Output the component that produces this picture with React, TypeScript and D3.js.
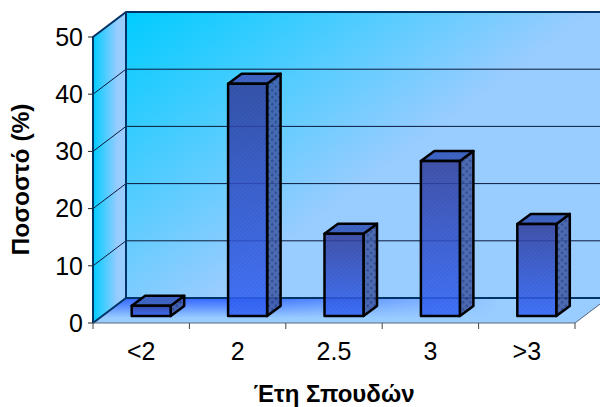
import React from "react";
import * as d3 from "d3";

const categories = ["<2", "2", "2.5", "3", ">3"];
const values = [1.8, 40.6, 14.4, 27.1, 16.1];
const yTicks = [0, 10, 20, 30, 40, 50];
const yTitle = "Ποσοστό (%)";
const xTitle = "Έτη Σπουδών";

const W = 600, H = 407;
const x = d3.scaleBand<string>().domain(categories).range([93, 575]);
const y = d3.scaleLinear().domain([0, 50]).range([323, 37]);
const DX = 33, DY = -25;
const pts = (p: number[][]) => p.map((q) => q.join(",")).join(" ");
const FONT = "'Liberation Sans', Arial, sans-serif";

export default function App() {
  const x0 = x.range()[0], x1 = x.range()[1];
  const y0 = y(0), yTop = y(50);
  const barW = 39, bdx = 13.5, bdy = -10, shiftX = 10, shiftY = -7;
  const floorPts = pts([[x0, y0], [x0 + DX, y0 + DY], [x1 + DX, y0 + DY], [x1, y0]]);
  return (
    <svg width={W} height={H} style={{ position: "absolute", left: 0, top: 0, background: "#fff" }}>
      <defs>
        <linearGradient id="back" gradientUnits="userSpaceOnUse" x1="126" y1="12" x2="294" y2="236">
          <stop offset="0" stopColor="#00ccff" />
          <stop offset="1" stopColor="#99ccff" />
        </linearGradient>
        <linearGradient id="left" x1="0" y1="0" x2="1" y2="0">
          <stop offset="0" stopColor="#00ccff" />
          <stop offset="0.75" stopColor="#99ccff" />
          <stop offset="1" stopColor="#99ccff" />
        </linearGradient>
        <linearGradient id="floor" x1="0" y1="0" x2="0" y2="1">
          <stop offset="0" stopColor="#3366ff" />
          <stop offset="0.8" stopColor="#99ccff" />
          <stop offset="1" stopColor="#99ccff" />
        </linearGradient>
        <linearGradient id="floorFade" gradientUnits="userSpaceOnUse" x1="240" y1="0" x2="500" y2="0">
          <stop offset="0" stopColor="#99ccff" stopOpacity="0" />
          <stop offset="1" stopColor="#99ccff" stopOpacity="1" />
        </linearGradient>
        <linearGradient id="barFront" x1="0" y1="0" x2="0" y2="1">
          <stop offset="0" stopColor="#33409f" />
          <stop offset="1" stopColor="#3366ff" />
        </linearGradient>
        <pattern id="hatch" width="3" height="3" patternUnits="userSpaceOnUse" patternTransform="rotate(45)">
          <rect width="1.5" height="3" fill="#000" fillOpacity="0.07" />
        </pattern>
        <pattern id="dots" width="5" height="5" patternUnits="userSpaceOnUse" patternTransform="rotate(45)">
          <rect width="5" height="5" fill="#3f5aa6" />
          <rect width="2.5" height="2.5" fill="#25397f" />
        </pattern>
      </defs>

      <polygon points={pts([[x0 + DX, yTop + DY], [x1 + DX, yTop + DY], [x1 + DX, y0 + DY], [x0 + DX, y0 + DY]])} fill="url(#back)" />
      <polygon points={pts([[x0, yTop], [x0 + DX, yTop + DY], [x0 + DX, y0 + DY], [x0, y0]])} fill="url(#left)" />
      <polygon points={floorPts} fill="url(#floor)" />
      <polygon points={floorPts} fill="url(#floorFade)" />

      {yTicks.slice(1, -1).map((t) => (
        <polyline key={t} points={pts([[x0, y(t)], [x0 + DX, y(t) + DY], [x1 + DX, y(t) + DY]])} fill="none" stroke="#0a1a3c" strokeWidth={1} />
      ))}

      <polyline points={pts([[x0, y0], [x0, yTop], [x0 + DX, yTop + DY], [x1 + DX, yTop + DY]])} fill="none" stroke="#003366" strokeWidth={2} />
      <line x1={x0 + DX} y1={yTop + DY} x2={x0 + DX} y2={y0 + DY} stroke="#003366" strokeWidth={2} />
      <polyline points={pts([[x0, y0], [x0 + DX, y0 + DY], [x1 + DX, y0 + DY]])} fill="none" stroke="#003366" strokeWidth={2} />
      <polyline points={pts([[x0, y0], [x1, y0], [x1 + DX, y0 + DY]])} fill="none" stroke="#5a6a80" strokeWidth={1} />

      {yTicks.map((t) => (
        <g key={t}>
          <line x1={x0 - 5} x2={x0} y1={y(t)} y2={y(t)} stroke="#222" />
          <text x={x0 - 10} y={y(t) + 8.7} textAnchor="end" fontFamily={FONT} fontSize={25} fill="#000">{t}</text>
        </g>
      ))}
      {[...categories.map((c) => x(c)!), x1].map((px, i) => (
        <line key={i} x1={px} x2={px} y1={y0} y2={y0 + 6} stroke="#444" />
      ))}
      {categories.map((c) => (
        <text key={c} x={x(c)! + x.bandwidth() / 2} y={360} textAnchor="middle" fontFamily={FONT} fontSize={25} fill="#000">{c}</text>
      ))}

      {categories.map((c, i) => {
        const l = x(c)! + x.bandwidth() / 2 + shiftX - barW / 2;
        const r = l + barW;
        const b = y(0) + shiftY;
        const t = y(values[i]) + shiftY;
        const front = pts([[l, t], [r, t], [r, b], [l, b]]);
        const side = pts([[r, t], [r + bdx, t + bdy], [r + bdx, b + bdy], [r, b]]);
        const top = pts([[l, t], [l + bdx, t + bdy], [r + bdx, t + bdy], [r, t]]);
        return (
          <g key={c} stroke="#000" strokeWidth={2.5} strokeLinejoin="round">
            <polygon points={side} fill="url(#dots)" fillOpacity={0.85} />
            <polygon points={top} fill="#3f66c8" />
            <polygon points={top} fill="url(#hatch)" stroke="none" />
            <polygon points={front} fill="url(#barFront)" fillOpacity={0.85} />
            <polygon points={front} fill="url(#hatch)" stroke="none" />
          </g>
        );
      })}

      <text x={334} y={402} textAnchor="middle" fontFamily={FONT} fontSize={24} fontWeight="bold" fill="#000">{xTitle}</text>
      <text transform="translate(28.5,179.5) rotate(-90)" textAnchor="middle" fontFamily={FONT} fontSize={24.5} fontWeight="bold" fill="#000">{yTitle}</text>
    </svg>
  );
}
